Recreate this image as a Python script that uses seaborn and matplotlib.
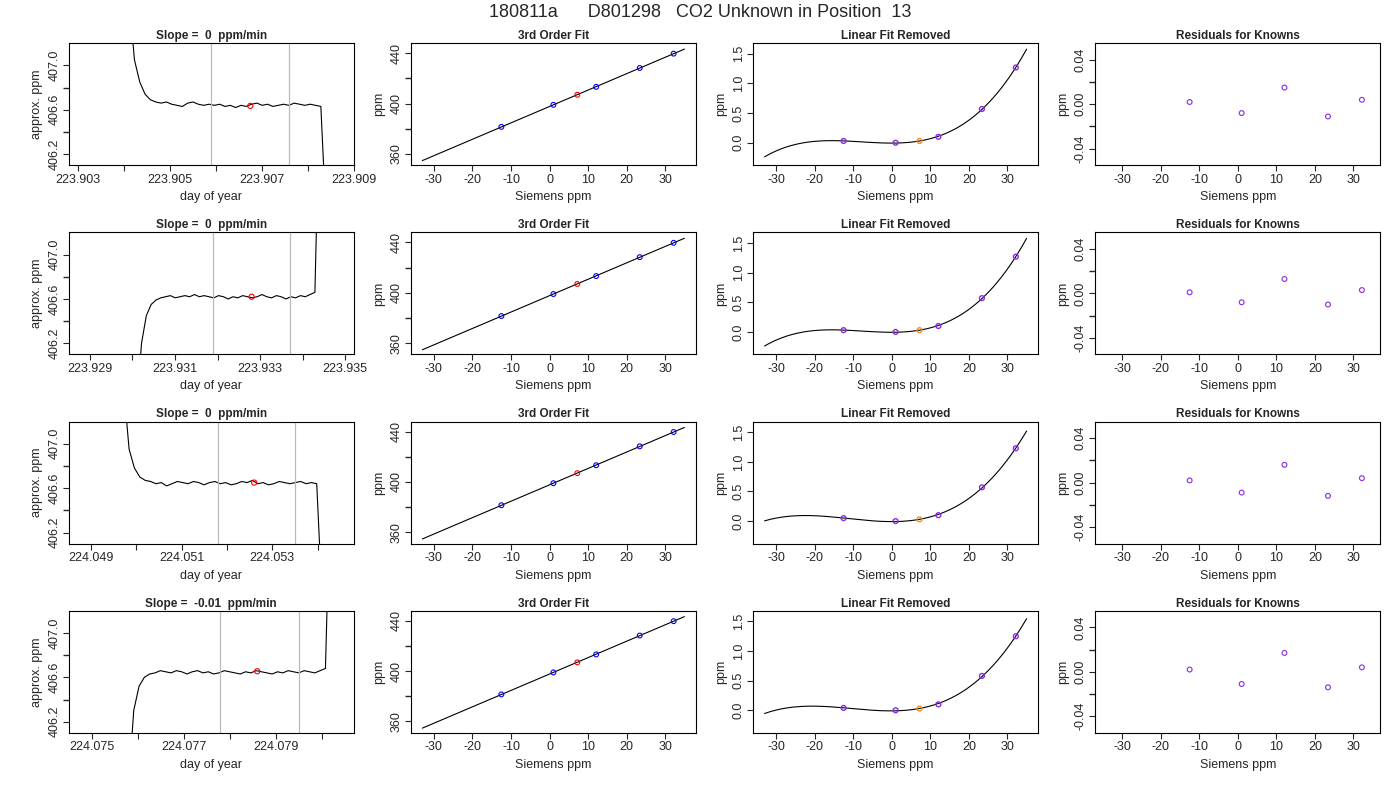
import numpy as np
import seaborn as sns
import matplotlib.pyplot as plt
from matplotlib.ticker import MultipleLocator, FixedLocator

sns.set_theme(style="ticks")
plt.rcParams['font.family'] = ['Liberation Sans', 'DejaVu Sans']
plt.rcParams['axes.unicode_minus'] = False

title = "180811a      D801298   CO2 Unknown in Position  13"
slopes = ["0", "0", "0", "-0.01"]

# trace panels: time span of trace, y values, gray lines, red point, x limits, ticks
trace_start = [223.9040, 223.9301, 224.0496, 224.0758]
trace_end = [223.9084, 223.9344, 224.0541, 224.0802]
trace_y = [
    [409.5, 407.6, 407.05, 406.85, 406.74, 406.69, 406.67, 406.66, 406.67, 406.65, 406.64, 406.63, 406.66, 406.67,
     406.65, 406.64, 406.65, 406.64, 406.65, 406.63, 406.64, 406.62, 406.64, 406.63, 406.65, 406.66, 406.64,
     406.65, 406.63, 406.64, 406.65, 406.64, 406.66, 406.65, 406.64, 406.65, 406.64, 406.63, 405.6],
    [405.6, 406.2, 406.45, 406.55, 406.59, 406.61, 406.62, 406.63, 406.61, 406.62, 406.63, 406.62, 406.64, 406.62,
     406.63, 406.62, 406.61, 406.63, 406.62, 406.60, 406.62, 406.61, 406.63, 406.62, 406.61, 406.62, 406.64,
     406.62, 406.61, 406.63, 406.62, 406.60, 406.62, 406.61, 406.63, 406.62, 406.64, 406.66, 408.5],
    [409.5, 407.5, 406.95, 406.78, 406.70, 406.67, 406.66, 406.64, 406.65, 406.62, 406.64, 406.66, 406.65, 406.64,
     406.66, 406.65, 406.63, 406.65, 406.66, 406.64, 406.65, 406.63, 406.64, 406.66, 406.65, 406.67, 406.64,
     406.65, 406.63, 406.64, 406.66, 406.65, 406.64, 406.65, 406.66, 406.64, 406.65, 406.64, 405.6],
    [405.6, 406.3, 406.52, 406.60, 406.63, 406.64, 406.66, 406.65, 406.64, 406.66, 406.65, 406.63, 406.65, 406.66,
     406.64, 406.65, 406.63, 406.64, 406.66, 406.65, 406.64, 406.63, 406.65, 406.64, 406.66, 406.65, 406.64,
     406.63, 406.65, 406.64, 406.66, 406.65, 406.64, 406.66, 406.65, 406.64, 406.66, 406.68, 408.5],
]
gray_lines = [(223.9059, 223.9076), (223.9319, 223.9337), (224.0518, 224.0535), (224.0778, 224.0795)]
red_pt = [(223.90675, 406.635), (223.9328, 406.62), (224.0526, 406.65), (224.0786, 406.655)]
trace_xlim = [(223.9028, 223.9090), (223.9285, 223.9352), (224.0485, 224.0548), (224.0745, 224.0807)]
trace_tick0 = [223.903, 223.929, 224.049, 224.075]

# calibration data
known_x = [-12.5, 1.0, 12.1, 23.4, 32.2]
unknown_x = 7.2
known_y = [381.5, 399.0, 413.3, 428.3, 439.7]
unknown_y = 407.0
lin_removed = [
    [0.03, 0.0, 0.10, 0.57, 1.27],
    [0.03, 0.0, 0.10, 0.57, 1.27],
    [0.05, 0.0, 0.10, 0.57, 1.23],
    [0.04, 0.0, 0.10, 0.58, 1.25],
]
unknown_removed = [0.03, 0.03, 0.03, 0.03]
residuals = [
    [0.002, -0.008, 0.015, -0.011, 0.004],
    [0.001, -0.008, 0.013, -0.010, 0.003],
    [0.002, -0.009, 0.016, -0.012, 0.004],
    [0.002, -0.011, 0.017, -0.014, 0.004],
]

purple = "#8A2BE2"
fig, axes = plt.subplots(4, 4, figsize=(14, 8), dpi=100)
fig.subplots_adjust(left=0.049, right=0.986, top=0.946, bottom=0.084, wspace=0.2, hspace=0.55)
fig.suptitle(title, fontsize=13, y=0.995)

def r_style(ax, t):
    ax.set_title(t, fontsize=8.5, fontweight="bold", pad=3)
    for s in ax.spines.values():
        s.set_linewidth(0.8)
        s.set_color("black")
    ax.tick_params(labelsize=9, length=4, width=0.8, pad=2)
    for lab in ax.get_yticklabels():
        lab.set_rotation(90)
        lab.set_va("center")
    ax.xaxis.label.set_size(9)
    ax.yaxis.label.set_size(9)

xs = np.linspace(-33, 35, 200)
for r in range(4):
    # column 1
    ax = axes[r, 0]
    tx = np.linspace(trace_start[r], trace_end[r], len(trace_y[r]))
    sns.lineplot(x=tx, y=trace_y[r], ax=ax, color="black", linewidth=0.8)
    for g in gray_lines[r]:
        ax.axvline(g, color="#BBBBBB", linewidth=0.9)
    ax.scatter([red_pt[r][0]], [red_pt[r][1]], s=14, facecolors="none", edgecolors="red", linewidths=0.8, zorder=3)
    ax.set_xlim(trace_xlim[r])
    ax.set_ylim(406.1, 407.2)
    t0 = trace_tick0[r]
    ticks = [t0 + i * 0.001 for i in range(7)]
    ax.xaxis.set_major_locator(FixedLocator(ticks))
    ax.set_xticklabels([f"{t:.3f}" if i % 2 == 0 else "" for i, t in enumerate(ticks)])
    ax.yaxis.set_major_locator(FixedLocator([406.2, 406.6, 407.0]))
    ax.yaxis.set_minor_locator(FixedLocator([406.4, 406.8]))
    ax.tick_params(axis="y", which="minor", length=4)
    ax.set_xlabel("day of year")
    ax.set_ylabel("approx. ppm")
    r_style(ax, f"Slope =  {slopes[r]}  ppm/min")

    # column 2
    ax = axes[r, 1]
    c1 = np.polyfit(known_x, known_y, 1)
    sns.lineplot(x=xs, y=np.polyval(c1, xs), ax=ax, color="black", linewidth=0.8)
    ax.scatter(known_x, known_y, s=12, facecolors="none", edgecolors="blue", linewidths=0.8, zorder=3)
    ax.scatter([unknown_x], [unknown_y], s=12, facecolors="none", edgecolors="red", linewidths=0.8, zorder=3)
    ax.set_xlim(-36, 38)
    ax.set_ylim(351, 448)
    ax.xaxis.set_major_locator(MultipleLocator(10))
    ax.yaxis.set_major_locator(FixedLocator([360, 400, 440]))
    ax.yaxis.set_minor_locator(FixedLocator([380, 420]))
    ax.tick_params(axis="y", which="minor", length=4)
    ax.set_xlabel("Siemens ppm")
    ax.set_ylabel("ppm")
    r_style(ax, "3rd Order Fit")

    # column 3
    ax = axes[r, 2]
    c3 = np.polyfit(known_x, lin_removed[r], 3)
    sns.lineplot(x=xs, y=np.polyval(c3, xs), ax=ax, color="black", linewidth=0.8)
    ax.scatter(known_x, lin_removed[r], s=12, facecolors="none", edgecolors=purple, linewidths=1, zorder=3)
    ax.scatter([unknown_x], [unknown_removed[r]], s=12, facecolors="none", edgecolors="#FF8C1A", linewidths=1, zorder=3)
    ax.set_xlim(-36, 38)
    ax.set_ylim(-0.38, 1.68)
    ax.xaxis.set_major_locator(MultipleLocator(10))
    ax.yaxis.set_major_locator(MultipleLocator(0.5))
    ax.set_xlabel("Siemens ppm")
    ax.set_ylabel("ppm")
    r_style(ax, "Linear Fit Removed")

    # column 4
    ax = axes[r, 3]
    sns.scatterplot(x=known_x, y=residuals[r], ax=ax, s=12, facecolors="none", edgecolor=purple, linewidth=0.8)
    ax.set_xlim(-37, 37)
    ax.set_ylim(-0.055, 0.055)
    ax.xaxis.set_major_locator(MultipleLocator(10))
    ax.yaxis.set_major_locator(FixedLocator([-0.04, 0.0, 0.04]))
    ax.yaxis.set_minor_locator(FixedLocator([-0.02, 0.02]))
    ax.tick_params(axis="y", which="minor", length=4)
    ax.set_yticklabels(["-0.04", "0.00", "0.04"])
    ax.set_xlabel("Siemens ppm")
    ax.set_ylabel("ppm")
    r_style(ax, "Residuals for Knowns")

fig.savefig("out.png")
